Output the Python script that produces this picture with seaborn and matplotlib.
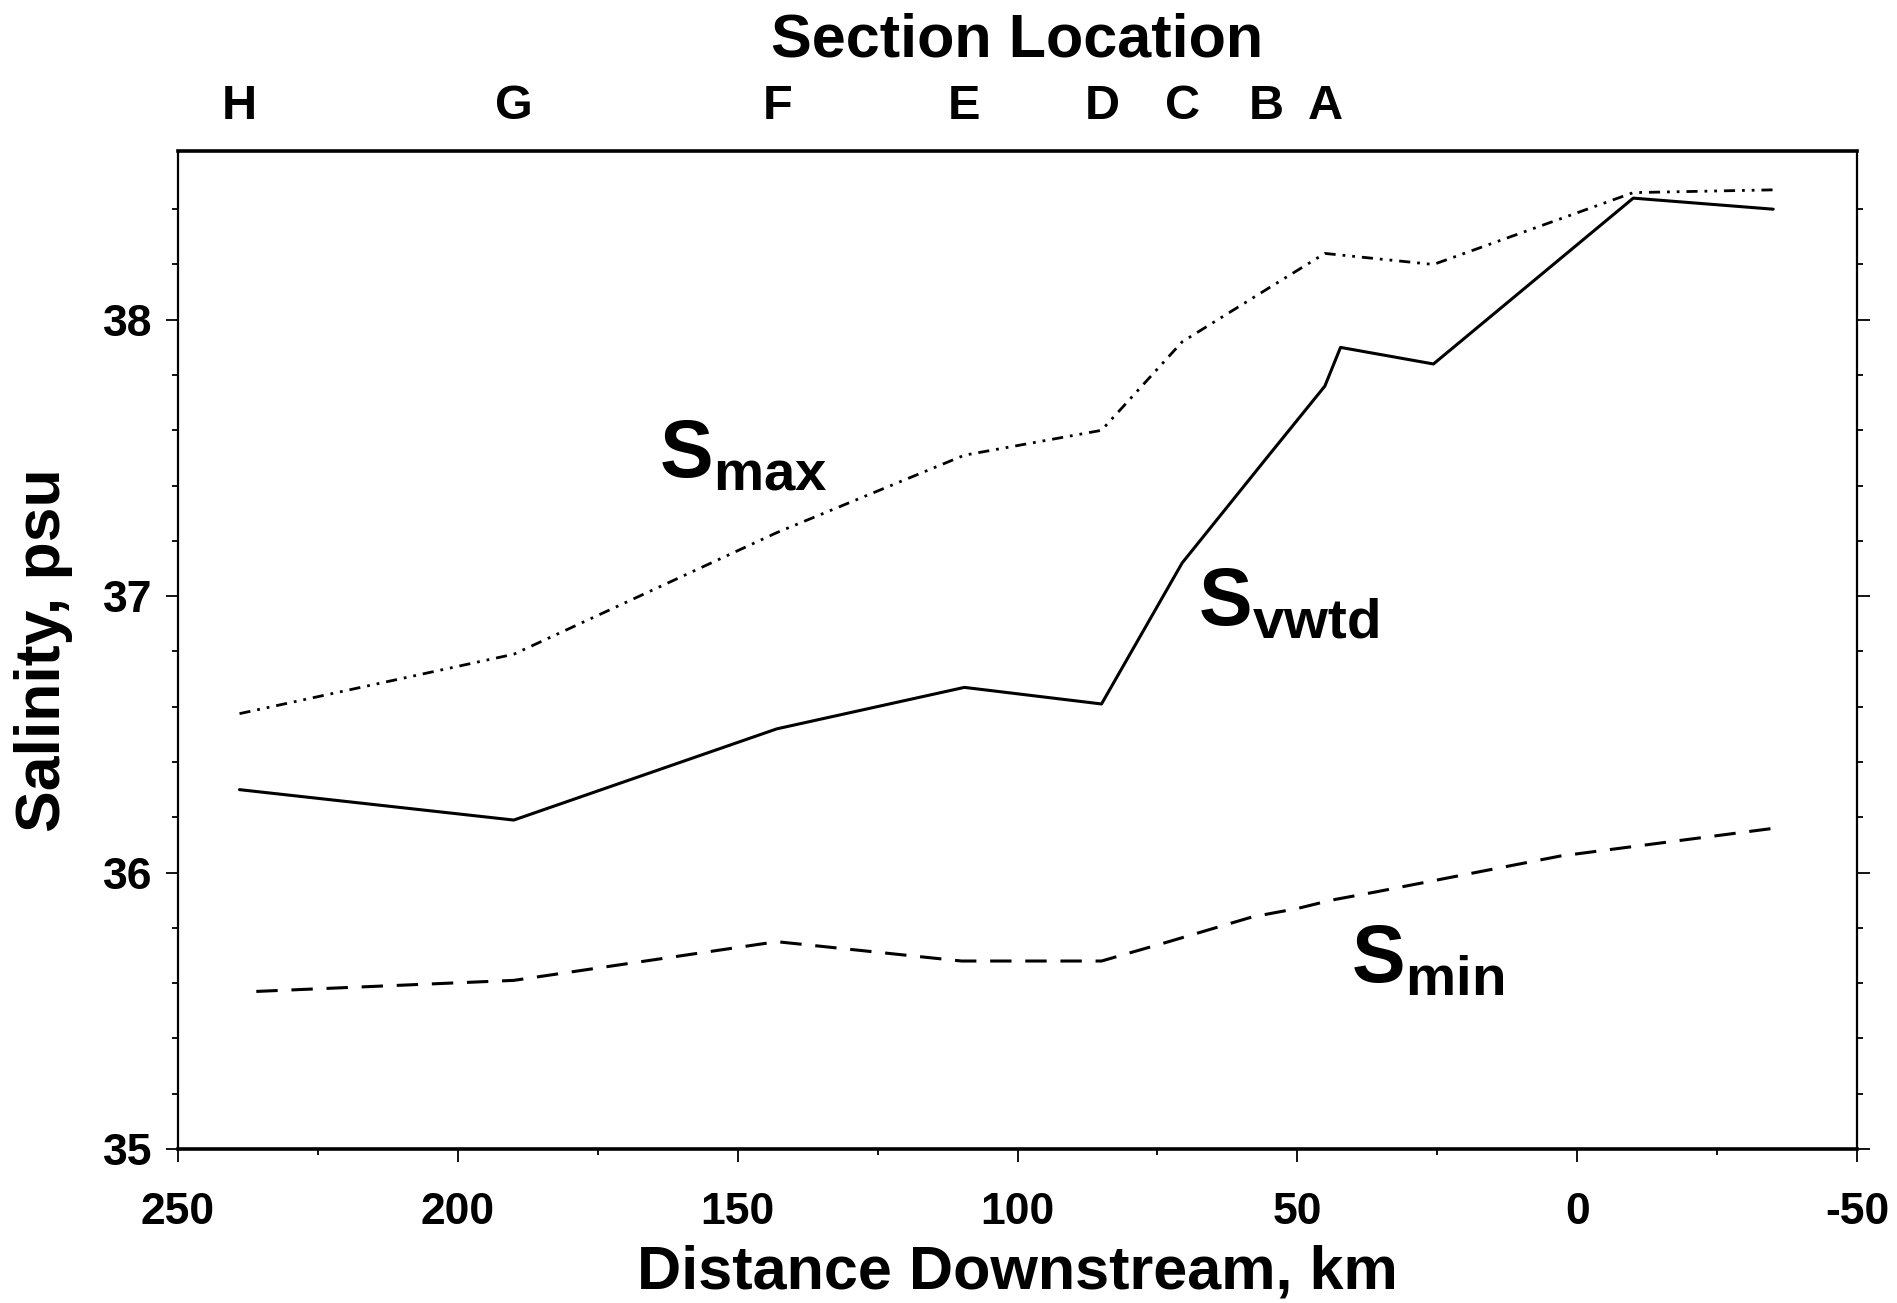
import seaborn as sns
import matplotlib.pyplot as plt
import pandas as pd

# salinity along the channel
smax_km = [239, 190, 143, 109.5, 85, 70.6, 55.5, 45.1, 25.7, -10, -35]
smax = [36.575, 36.79, 37.23, 37.51, 37.60, 37.92, 38.11, 38.24, 38.20, 38.46, 38.47]

svwtd_km = [239, 190, 143, 109.5, 85, 70.6, 55.5, 45.1, 42.3, 25.7, -10, -35]
svwtd = [36.30, 36.19, 36.52, 36.67, 36.61, 37.12, 37.50, 37.76, 37.90, 37.84, 38.44, 38.40]

smin_km = [236, 190, 143, 110, 85, 73, 58, 50, 44, 36, 3, -35]
smin = [35.57, 35.61, 35.75, 35.68, 35.68, 35.75, 35.84, 35.87, 35.90, 35.93, 36.06, 36.16]

# section locations on the top axis
section_km = [239, 190, 142.8, 109.5, 84.9, 70.6, 55.5, 45.1]
section_labels = ['H', 'G', 'F', 'E', 'D', 'C', 'B', 'A']

sns.set_style('ticks')
plt.rcParams['font.family'] = ['Liberation Sans', 'DejaVu Sans']
plt.rcParams['font.weight'] = 'bold'
plt.rcParams['mathtext.fontset'] = 'custom'
plt.rcParams['mathtext.bf'] = 'Liberation Sans:bold'
plt.rcParams['mathtext.rm'] = 'Liberation Sans:bold'
plt.rcParams['axes.unicode_minus'] = False
for key in ['text.color', 'axes.labelcolor', 'xtick.color', 'ytick.color', 'axes.edgecolor']:
    plt.rcParams[key] = 'black'

fig = plt.figure(figsize=(18.97, 13.03), dpi=100)
ax = fig.add_axes([0.0938, 0.1182, 0.8852, 0.7658])

df_max = pd.DataFrame({'km': smax_km, 'S': smax})
df_vw = pd.DataFrame({'km': svwtd_km, 'S': svwtd})
df_min = pd.DataFrame({'km': smin_km, 'S': smin})

sns.lineplot(data=df_max, x='km', y='S', ax=ax, color='black', lw=2.0,
             sort=False).lines[-1].set_dashes((4, 2.5, 1, 2.5, 1, 2.5))
sns.lineplot(data=df_vw, x='km', y='S', ax=ax, color='black', lw=2.2, sort=False)
sns.lineplot(data=df_min, x='km', y='S', ax=ax, color='black', lw=2.2,
             sort=False).lines[-1].set_dashes((7, 4.5))

ax.set_xlim(250, -50)
ax.set_ylim(35, 38.61)
ax.set_xticks([250, 200, 150, 100, 50, 0, -50])
ax.set_xticks([225, 175, 125, 75, 25, -25], minor=True)
ax.set_yticks([35, 36, 37, 38])
ax.set_yticks([35.2, 35.4, 35.6, 35.8, 36.2, 36.4, 36.6, 36.8,
               37.2, 37.4, 37.6, 37.8, 38.2, 38.4], minor=True)
ax.tick_params(which='both', direction='out', top=True, right=True,
               width=1.3, color='black')
ax.tick_params(which='major', length=9)
ax.tick_params(which='minor', length=4.5)
ax.tick_params(axis='x', which='major', labelsize=32, pad=22)
ax.tick_params(axis='y', which='major', labelsize=32, pad=9)
for lab in ax.get_xticklabels() + ax.get_yticklabels():
    lab.set_fontweight('bold')

for side in ['top', 'bottom']:
    ax.spines[side].set_linewidth(2.6)
for side in ['left', 'right']:
    ax.spines[side].set_linewidth(1.6)

ax.set_xlabel('Distance Downstream, km', fontsize=44, fontweight='bold', labelpad=8)
ax.set_ylabel('Salinity, psu', fontsize=45, fontweight='bold', labelpad=22)

ax2 = ax.twiny()
ax2.set_xlim(ax.get_xlim())
ax2.set_xticks(section_km, section_labels)
ax2.tick_params(axis='x', length=0, labelsize=35, pad=16)
for lab in ax2.get_xticklabels():
    lab.set_fontweight('bold')
ax2.set_xlabel('Section Location', fontsize=44, fontweight='bold', labelpad=20)
for sp in ax2.spines.values():
    sp.set_visible(False)

ax.text(164, 37.43, r'$\mathbf{S}_{\mathbf{max}}$', fontsize=58, ha='left', va='baseline')
ax.text(67.8, 36.895, r'$\mathbf{S}_{\mathbf{vwtd}}$', fontsize=58, ha='left', va='baseline')
ax.text(40.4, 35.60, r'$\mathbf{S}_{\mathbf{min}}$', fontsize=58, ha='left', va='baseline')

fig.savefig('out.png', dpi=100, facecolor='white')
